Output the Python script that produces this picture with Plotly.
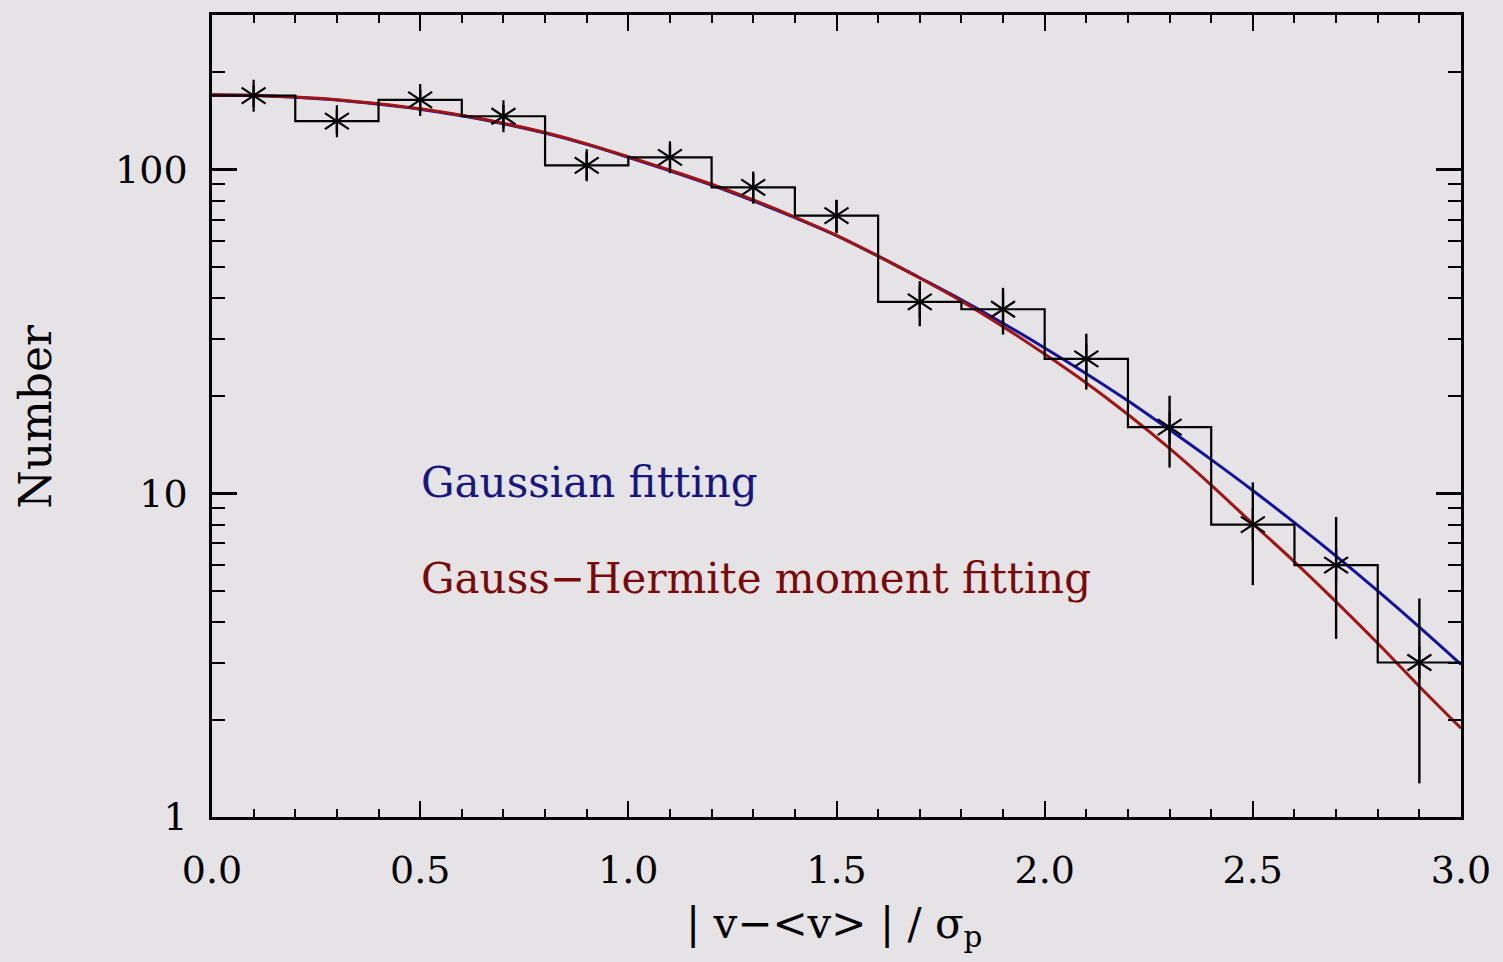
import plotly.graph_objects as go

# ---- data ----
bin_edges = [0.0, 0.2, 0.4, 0.6, 0.8, 1.0, 1.2, 1.4, 1.6, 1.8, 2.0, 2.2, 2.4, 2.6, 2.8, 3.0]
bin_centers = [0.1, 0.3, 0.5, 0.7, 0.9, 1.1, 1.3, 1.5, 1.7, 1.9, 2.1, 2.3, 2.5, 2.7, 2.9]
counts = [169, 141, 164, 146, 103, 109, 88, 72, 39, 37, 26, 16, 8, 6, 3]
count_err = [13.0, 11.9, 12.8, 12.1, 10.1, 10.4, 9.4, 8.5, 6.2, 6.1, 5.1, 4.0, 2.8, 2.45, 1.73]

curve_x = [0.0, 0.1, 0.2, 0.3, 0.4, 0.5, 0.6, 0.7, 0.8, 0.9, 1.0,
           1.1, 1.2, 1.3, 1.4, 1.5, 1.6, 1.7, 1.8, 1.9, 2.0,
           2.1, 2.2, 2.3, 2.4, 2.5, 2.6, 2.7, 2.8, 2.9, 3.0]
gauss_fit = [170, 169.2, 167.0, 163.8, 159.0, 153.5, 146.5, 138.5, 129.5, 119.5, 109.0,
             99.0, 89.5, 80.0, 71.0, 62.5, 54.0, 46.3, 39.6, 33.5, 28.1,
             23.4, 19.3, 15.7, 12.7, 10.2, 8.11, 6.39, 4.99, 3.86, 2.96]
gh_fit = [170, 169.2, 167.3, 164.3, 159.6, 154.0, 147.0, 139.0, 130.0, 120.0, 109.5,
          99.5, 90.0, 80.5, 71.3, 62.6, 54.0, 46.2, 39.2, 32.7, 26.9,
          21.9, 17.5, 13.75, 10.6, 8.05, 6.14, 4.62, 3.44, 2.53, 1.88]

x_ticks = [0.0, 0.5, 1.0, 1.5, 2.0, 2.5, 3.0]
x_ticklabels = ["0.0", "0.5", "1.0", "1.5", "2.0", "2.5", "3.0"]

BG = "#e5e3e6"
FONT = "DejaVu Serif"
BLUE_LINE = "#12129a"
RED_LINE = "#a01414"

fig = go.Figure()

fig.add_trace(go.Scatter(x=curve_x, y=gauss_fit, mode="lines", line=dict(color=BLUE_LINE, width=3, shape="spline"),
                         showlegend=False, hoverinfo="skip"))
fig.add_trace(go.Scatter(x=curve_x, y=gh_fit, mode="lines", line=dict(color=RED_LINE, width=3, shape="spline"),
                         showlegend=False, hoverinfo="skip"))

# histogram as step line
fig.add_trace(go.Scatter(x=bin_edges, y=counts + [counts[-1]], mode="lines",
                         line=dict(color="black", width=2.2, shape="hv"), showlegend=False, hoverinfo="skip"))

# error bars
fig.add_trace(go.Scatter(x=bin_centers, y=counts, mode="markers",
                         marker=dict(size=1, color="rgba(0,0,0,0)"),
                         error_y=dict(type="data", array=count_err, visible=True, color="black", thickness=2.4, width=0),
                         showlegend=False))

# asterisk markers (6-armed) built from two Y symbols
for sym in ["y-up-open", "y-down-open"]:
    fig.add_trace(go.Scatter(x=bin_centers, y=counts, mode="markers",
                             marker=dict(symbol=sym, size=20, color="black", line=dict(color="black", width=2.2)),
                             showlegend=False))

fig.update_layout(
    width=1503, height=962,
    margin=dict(l=212, r=40, t=12, b=145),
    paper_bgcolor=BG, plot_bgcolor=BG,
    font=dict(family=FONT, size=38, color="black"),
    xaxis=dict(range=[0, 3], tickvals=x_ticks, ticktext=x_ticklabels,
               ticks="inside", ticklen=16, tickwidth=2, tickcolor="black",
               minor=dict(ticks="inside", ticklen=8, tickwidth=2, tickcolor="black", dtick=0.1, tick0=0),
               showline=True, linecolor="black", linewidth=2.5, mirror="allticks",
               showgrid=False, zeroline=False, ticklabelstandoff=18,
               tickfont=dict(family=FONT, size=38)),
    yaxis=dict(type="log", range=[0, 2.4771], dtick=1, tick0=0,
               ticks="inside", ticklen=25, tickwidth=2.5, tickcolor="black",
               minor=dict(ticks="inside", ticklen=13, tickwidth=2, tickcolor="black", dtick="D1"),
               showline=True, linecolor="black", linewidth=2.5, mirror="allticks",
               showgrid=False, zeroline=False, ticklabelstandoff=14,
               tickfont=dict(family=FONT, size=38)),
)

fig.add_annotation(text="Number", xref="paper", yref="paper", x=-0.1415, y=0.4994,
                   textangle=-90, showarrow=False, xanchor="center", yanchor="middle",
                   font=dict(family=FONT, size=44, color="black"))
fig.add_annotation(text="| v\u2212&lt;v&gt; | / \u03c3<sub>p</sub>", xref="paper", yref="paper", x=0.498, y=-0.136,
                   showarrow=False, xanchor="center", yanchor="middle",
                   font=dict(family=FONT, size=42, color="black"))
fig.add_annotation(text="Gaussian fitting", xref="paper", yref="paper", x=0.166, y=0.417,
                   showarrow=False, xanchor="left", yanchor="middle",
                   font=dict(family=FONT, size=42, color="#16167e"))
fig.add_annotation(text="Gauss\u2212Hermite moment fitting", xref="paper", yref="paper", x=0.166, y=0.297,
                   showarrow=False, xanchor="left", yanchor="middle",
                   font=dict(family=FONT, size=42, color="#7a0a0a"))

fig.write_html("out.html")
